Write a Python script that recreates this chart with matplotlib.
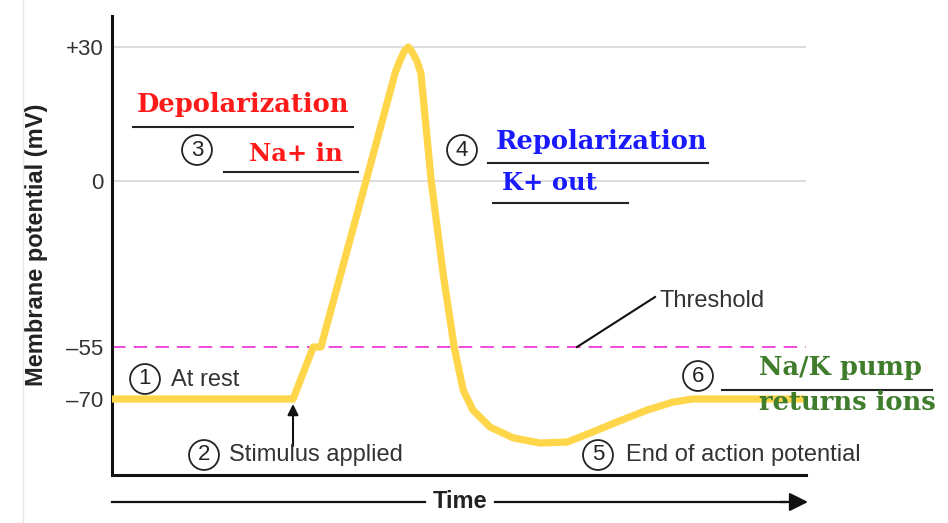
import numpy as np
import matplotlib
matplotlib.use("Agg")
import matplotlib.pyplot as plt
from matplotlib.lines import Line2D

# ---- data (membrane potential in mV vs arbitrary time units) ----
time = [0, 26.1, 29.0, 30.1, 36.6, 40.8, 41.5, 42.1, 42.7, 43.2, 43.9, 44.5,
        46.0, 47.7, 49.3, 50.6, 52.0, 54.5, 57.8, 61.7, 65.6, 68.9, 72.8,
        77.1, 80.8, 83.7, 87.2, 100]
potential = [-70, -70, -55, -55, 0, 24.2, 27.0, 29.0, 30.0, 29.0, 27.0, 24.2,
             0, -30.5, -55, -67.4, -73.2, -78.1, -81.2, -82.7, -82.4, -79.8, -76.6,
             -73.2, -70.9, -70, -70, -70]
tick_values = [30, 0, -55, -70]
tick_labels = ["+30", "0", "\u201355", "\u201370"]
threshold = -55
grid_values = [30, 0]

# piecewise scale (schematic axis is not linear in mV)
mv_pts = [-110, -70, -55, 0, 30, 50]
pos_pts = [-(399 + 40 * 3.47), -399, -347, -181, -47, -(47 - 20 * 4.47)]

def fwd(v):
    return np.interp(v, mv_pts, pos_pts)

def inv(p):
    return np.interp(p, pos_pts, mv_pts)

W, H = 948, 523
fig = plt.figure(figsize=(W / 100, H / 100), dpi=100)
L, R, B, T = 112, 806, 475, 16
ax = fig.add_axes([L / W, 1 - B / H, (R - L) / W, (B - T) / H])
ax.set_yscale("function", functions=(fwd, inv))
ax.set_xlim(0, 100)
ax.set_ylim(inv(-475), inv(-16))

SANS = "Liberation Sans"
GRAY = "#333333"

for g in grid_values:
    ax.axhline(g, color="#dddddd", lw=1.5, zorder=0)
ax.axhline(threshold, color="#ee3bd6", lw=1.3, ls=(0, (7.5, 4.5)), zorder=1)
ax.plot(time, potential, color="#ffd54a", lw=5.2, solid_capstyle="round",
        solid_joinstyle="round", zorder=3)

for s in ["top", "right"]:
    ax.spines[s].set_visible(False)
for s in ["left", "bottom"]:
    ax.spines[s].set_linewidth(2.2)
    ax.spines[s].set_color("#111111")
ax.set_xticks([])
ax.set_yticks(tick_values)
ax.set_yticklabels(tick_labels, fontfamily=SANS, fontsize=16, color=GRAY)
ax.tick_params(axis="y", length=0, pad=6)
ax.yaxis.set_minor_locator(matplotlib.ticker.NullLocator())
ax.set_ylabel("Membrane potential (mV)", fontfamily=SANS, fontsize=17,
              fontweight="bold", color="#222222")
ax.yaxis.set_label_coords(-(112 - 48) / (R - L), (B - 245) / (B - T))


def A(px, py):
    return ((px - L) / (R - L), (B - py) / (B - T))


def circ(px, py, n):
    ax.text(*A(px, py), n, transform=ax.transAxes, ha="center", va="center",
            fontfamily=SANS, fontsize=16, color="#222222",
            bbox=dict(boxstyle="circle,pad=0.2", fc="white", ec="#222222", lw=1.3),
            zorder=5, clip_on=False)


def txt(px, py, s, **kw):
    ax.text(*A(px, py), s, transform=ax.transAxes, va="center", clip_on=False,
            zorder=6, **kw)


def uline(x0, x1, py):
    ax.plot([A(x0, py)[0], A(x1, py)[0]], [A(x0, py)[1]] * 2, transform=ax.transAxes,
            color="#222222", lw=1.5, clip_on=False, zorder=4)


lab = dict(fontfamily=SANS, fontsize=17, color=GRAY, ha="left")
circ(145, 379, "1")
txt(171, 380, "At rest", **lab)
circ(204, 455, "2")
txt(229, 455, "Stimulus applied", **lab)
circ(598, 455, "5")
txt(626, 455, "End of action potential", **lab)
circ(698, 376, "6")
circ(197, 150, "3")
circ(462, 150, "4")
txt(659, 301, "Threshold", **lab)
ax.plot([A(577, 347)[0], A(655, 297)[0]], [A(577, 347)[1], A(655, 297)[1]],
        transform=ax.transAxes, color="#111111", lw=1.5, clip_on=False)
ax.annotate("", xy=A(293, 404), xytext=A(293, 446), xycoords="axes fraction",
            arrowprops=dict(arrowstyle="-|>", color="#111111", lw=1.5,
                            mutation_scale=16, shrinkA=0, shrinkB=0))

SERIF = "DejaVu Serif"
sb = dict(fontfamily=SERIF, fontweight="bold", ha="left")
txt(137, 104, "Depolarization", color="#ff1a1a", fontsize=18.5, **sb)
uline(133, 353, 127)
txt(249, 154, "Na+ in", color="#ff1a1a", fontsize=17.5, **sb)
uline(224, 358, 172)
txt(496, 141, "Repolarization", color="#1a1aff", fontsize=18.5, **sb)
uline(488, 708, 163)
txt(502, 183, "K+ out", color="#1a1aff", fontsize=17.5, **sb)
uline(493, 628, 203)
txt(759, 368, "Na/K pump", color="#3f7d2c", fontsize=18.5, **sb)
uline(722, 932, 390)
txt(759, 403, "returns ions", color="#3f7d2c", fontsize=18.5, **sb)

# Time arrow below axes
def F(px, py):
    return (px / W, 1 - py / H)

fig.add_artist(Line2D([F(112, 502)[0], F(425, 502)[0]], [F(112, 502)[1]] * 2,
                      color="#111111", lw=1.6))
fig.add_artist(Line2D([F(495, 502)[0], F(785, 502)[0]], [F(495, 502)[1]] * 2,
                      color="#111111", lw=1.6))
ax.annotate("", xy=F(808, 502), xytext=F(780, 502), xycoords="figure fraction",
            arrowprops=dict(arrowstyle="-|>", color="#111111", lw=1.6,
                            mutation_scale=28, shrinkA=0, shrinkB=0))
fig.text(*F(460, 502), "Time", ha="center", va="center", fontfamily=SANS,
         fontsize=17, fontweight="bold", color="#222222")
fig.add_artist(Line2D([F(23, 0)[0]] * 2, [0, 1], color="#e6e6e6", lw=1))

fig.savefig("out.png", dpi=100)
